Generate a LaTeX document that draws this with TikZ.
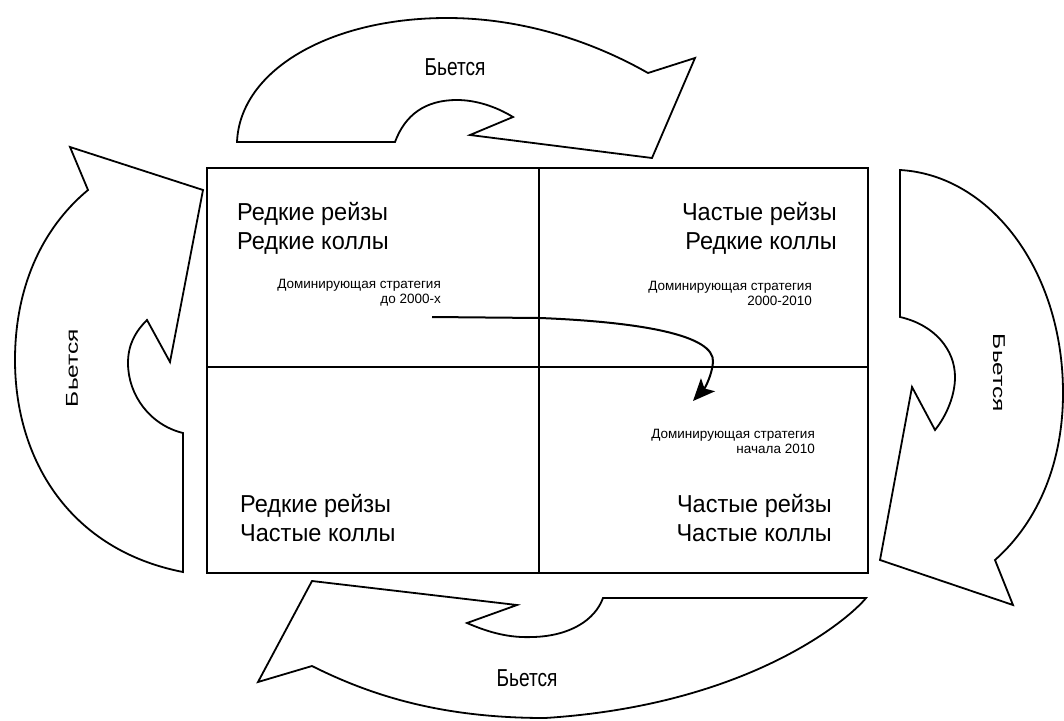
\documentclass[tikz,border=0pt]{standalone}
\usepackage{fontspec}
\setmainfont{Liberation Sans}
\usetikzlibrary{arrows.meta}
\tikzset{
  bigarrow/.style={draw=black, line width=1.8pt, line join=miter, fill=white},
  frame/.style={draw=black, line width=1.5pt},
  quadtext/.style={inner sep=0pt, font=\fontsize{24.5}{29}\selectfont},
  smalltext/.style={inner sep=0pt, align=right, font=\fontsize{13.5}{15}\selectfont},
  beats/.style={inner sep=0pt, font=\fontsize{24.5}{29}\selectfont},
  flow/.style={draw=black, line width=2pt, -{Stealth[length=22pt,width=19pt,inset=5pt]}}
}
\begin{document}
\begin{tikzpicture}[x=1pt,y=-1pt]
\useasboundingbox (0,0) rectangle (1064,720);
% top arrow
\path[bigarrow] (237,142) -- (395,142) .. controls (405,115) and (425,100) .. (457,100)
  .. controls (475,100) and (495,106) .. (513,117) -- (470,135) -- (652,158) -- (695,58)
  -- (648,73) .. controls (590,40) and (520,18) .. (447,18)
  .. controls (330,18) and (240,70) .. (237,142) -- cycle;
% left arrow
\path[bigarrow] (183,572) -- (183,433) .. controls (150,425) and (128,395) .. (128,363)
  .. controls (128,345) and (135,332) .. (147,320) -- (170,362) -- (203,190) -- (70,147)
  -- (88,190) .. controls (40,230) and (15,290) .. (15,360)
  .. controls (15,460) and (70,550) .. (183,572) -- cycle;
% right arrow
\path[bigarrow] (900,170) -- (900,317) .. controls (935,325) and (955,350) .. (955,377)
  .. controls (955,395) and (947,415) .. (935,430) -- (912,387) -- (880,560) -- (1013,605)
  -- (995,560) .. controls (1040,520) and (1063,460) .. (1063,393)
  .. controls (1063,270) and (990,175) .. (900,170) -- cycle;
% bottom arrow
\path[bigarrow] (312,581) -- (517,605) -- (467,623) .. controls (490,633) and (510,638) .. (533,637)
  .. controls (570,636) and (595,620) .. (603,598) -- (866,598)
  .. controls (850,618) and (750,705) .. (545,718)
  .. controls (440,718) and (370,695) .. (312,666) -- (258,682) -- cycle;
% frame
\draw[frame] (207,168) rectangle (868,573);
\coordinate (vt) at (539,168);
\coordinate (vb) at (539,573);
\coordinate (hl) at (207,367);
\coordinate (hr) at (868,367);
\draw[frame] (vt) -- (vb);
\draw[frame] (hl) -- (hr);
% labels of the arrows
\node[beats] (btop) at (455,67) {\scalebox{0.78}[1]{Бьется}};
\node[beats] (bbot) at (527,678) {\scalebox{0.78}[1]{Бьется}};
\node[beats] (bleft) at (72,368) {\scalebox{0.7}[1]{\rotatebox{90}{Бьется}}};
\node[beats] (bright) at (999,373) {\scalebox{0.7}[1]{\rotatebox{-90}{Бьется}}};
% quadrant texts
\node[quadtext, anchor=west, align=left] (q1) at (237,228) {\scalebox{0.96}[1]{Редкие рейзы}\\\scalebox{0.96}[1]{Редкие коллы}};
\node[quadtext, anchor=east, align=right] (q2) at (837,228) {\scalebox{0.96}[1]{Частые рейзы}\\\scalebox{0.96}[1]{Редкие коллы}};
\node[quadtext, anchor=west, align=left] (q3) at (240,518) {\scalebox{0.96}[1]{Редкие рейзы}\\\scalebox{0.96}[1]{Частые коллы}};
\node[quadtext, anchor=east, align=right] (q4) at (832,518) {\scalebox{0.96}[1]{Частые рейзы}\\\scalebox{0.96}[1]{Частые коллы}};
% strategy notes
\node[smalltext, anchor=east] (s1) at (441,293) {Доминирующая стратегия\\до 2000-х};
\node[smalltext, anchor=east] (s2) at (812,293) {Доминирующая стратегия\\2000-2010};
\node[smalltext, anchor=east] (s3) at (815,441) {Доминирующая стратегия\\начала 2010};
% flow arrow
\coordinate (fs) at (432,317);
\coordinate (fm) at (540,318);
\coordinate (fe) at (693,401);
\draw[flow] (fs) -- (fm) .. controls (640,322) and (715,335) .. (713,362)
  .. controls (712,375) and (705,388) .. (fe);
\end{tikzpicture}
\end{document}
